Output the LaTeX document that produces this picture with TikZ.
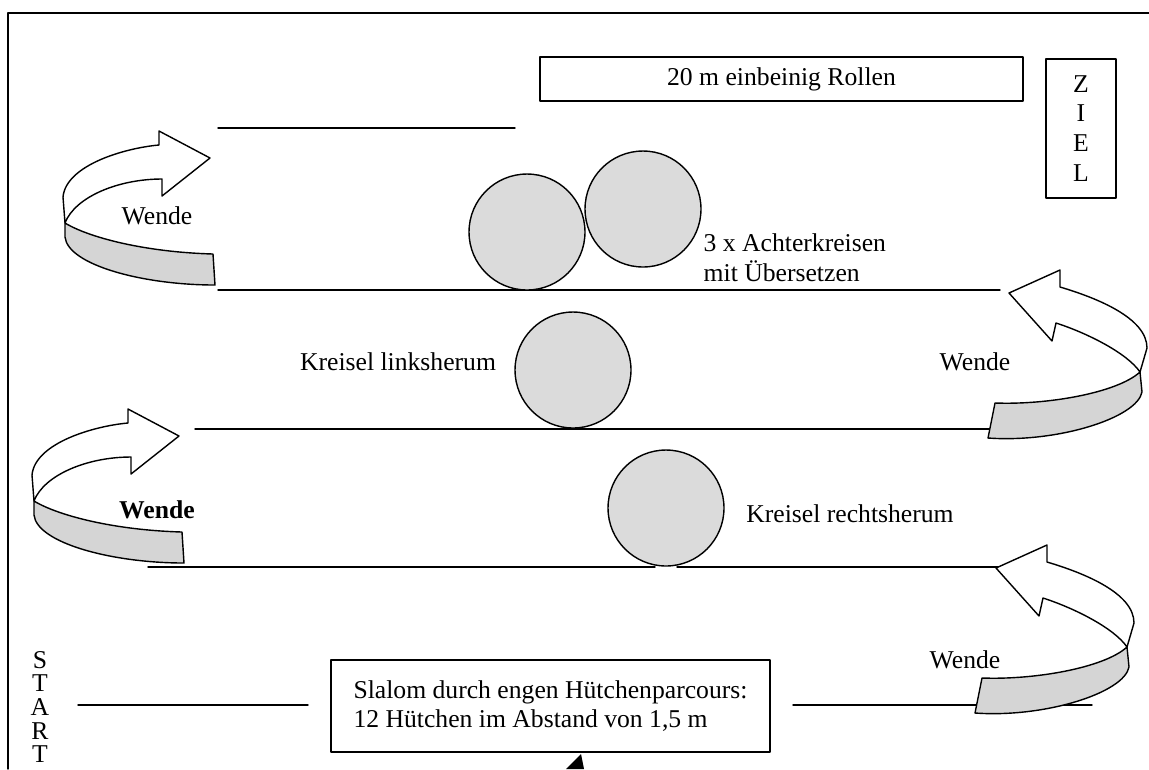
\documentclass[tikz,border=0pt]{standalone}
\usepackage{fontspec}
\setmainfont{Liberation Serif}
\tikzset{
  txt/.style={font=\fontsize{14.6}{17}\selectfont, inner sep=0pt},
  kegel/.style={fill=gray!28, draw},
  band/.style={fill=gray!33, draw},
}
\begin{document}
\begin{tikzpicture}[x=0.02cm, y=-0.02cm, line width=0.8pt, line join=round, line cap=round]
	\useasboundingbox (0,0) rectangle (1149,769);
	\draw (8,769) -- (8,13) -- (1149,13);
	% track lines
	\draw (218,128) -- (515,128);
	\draw (218,290) -- (1000,290);
	\draw (195,429) -- (990,429);
	\draw (148,567) -- (655,567);
	\draw (677,567) -- (1000,567);
	\draw (78,705) -- (308,705);
	\draw (793,705) -- (1092,705);
	% cones
	\foreach \cx/\cy in {527/232, 643/209, 573/370, 666/508}
	\draw[kegel] (\cx,\cy) circle (1.16cm);
	% turns on the left
	\foreach \sx/\sy in {63/197, 32/475} {
	\begin{scope}[shift={(\sx,\sy)}]
		\draw[band] (2,26) .. controls (25,40) and (80,55) .. (150,57) -- (152,88) .. controls (80,88) and (5,68) .. (2,40) -- cycle;
		\draw[fill=white] (0,0) .. controls (3,-32) and (62,-49) .. (96,-52) -- (96,-66) -- (147,-39) -- (99,-1) -- (99,-18) .. controls (55,-18) and (12,0) .. (2,26) -- cycle;
	\end{scope}
	}
	% turns on the right
	\foreach \sx/\sy in {1147/348, 1134/623} {
	\begin{scope}[shift={(\sx,\sy)}]
		\draw[band] (-7,24) .. controls (-30,45) and (-100,57) .. (-152,55) -- (-159,90) .. controls (-90,95) and (-10,70) .. (-5,44) -- cycle;
		\draw[fill=white] (0,0) .. controls (0,-30) and (-50,-50) .. (-87,-61) -- (-87,-78) -- (-138,-55) -- (-95,-7) -- (-91,-25) .. controls (-60,-15) and (-20,5) .. (-7,24) -- cycle;
	\end{scope}
	}
	% boxes and labels
	\node[txt, draw, minimum width=9.66cm, minimum height=0.88cm] (rollen) at (781.5,79) {20 m einbeinig Rollen};
	\node[txt, draw, align=center, minimum width=1.4cm, minimum height=2.78cm] (ziel) at (1081,128.5) {Z\\I\\E\\L};
	\node[txt, align=left, anchor=west] (achter) at (703,258) {3 x Achterkreisen\\mit Übersetzen};
	\node[txt] (links) at (398,362) {Kreisel linksherum};
	\node[txt] (rechts) at (850,514) {Kreisel rechtsherum};
	\node[txt] (wende1) at (157,216) {Wende};
	\node[txt] (wende2) at (975,362) {Wende};
	\node[txt, font=\fontsize{14.6}{17}\selectfont\bfseries] (wende3) at (157,510) {Wende};
	\node[txt] (wende4) at (965,660) {Wende};
	\node[txt, align=center, font=\fontsize{14.6}{13.5}\selectfont] (start) at (40,707) {S\\T\\A\\R\\T};
	\node[txt, draw, align=left, minimum width=8.78cm, minimum height=1.84cm, font=\fontsize{14.6}{16}\selectfont] (slalom) at (550.5,706) {Slalom durch engen Hütchenparcours:\\12 Hütchen im Abstand von 1,5 m};
	\fill (566,769) -- (581,754) -- (584,769) -- cycle;
\end{tikzpicture}
\end{document}
